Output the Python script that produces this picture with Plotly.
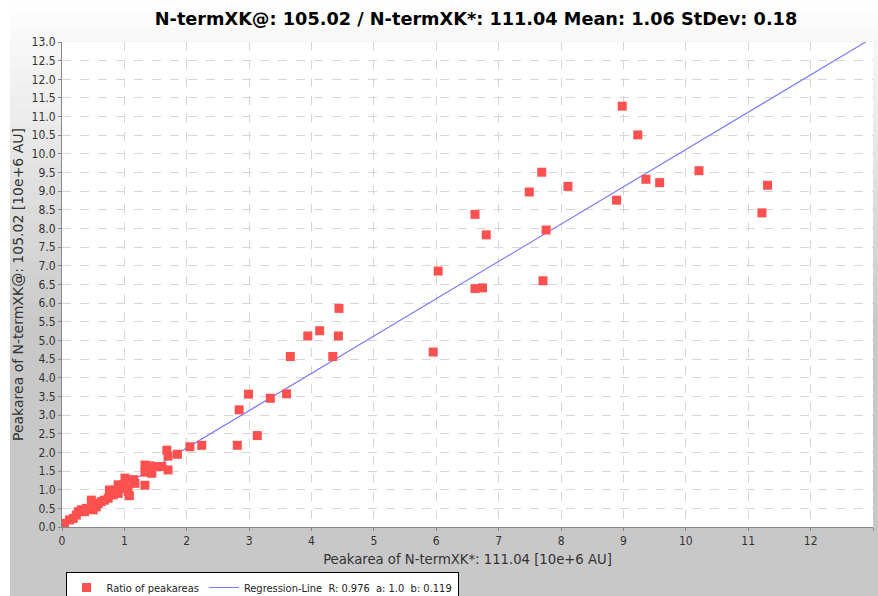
import plotly.graph_objects as go

title_text = "N-termXK@: 105.02 / N-termXK*: 111.04 Mean: 1.06 StDev: 0.18"
x_title = "Peakarea of N-termXK*: 111.04 [10e+6 AU]"
y_title = "Peakarea of N-termXK@: 105.02 [10e+6 AU]"
series_name = "Ratio of peakareas"
reg_name = "Regression-Line  R: 0.976  a: 1.0  b: 0.119"

# Peak areas (10e+6 AU)
peak_x = [
    8.98, 9.23, 7.69, 7.49, 8.11, 8.89, 9.36, 9.58, 10.21, 11.31, 11.22,
    6.62, 6.80, 7.76, 7.71, 6.03, 6.62, 6.74, 5.95,
    4.44, 4.13, 3.94, 4.43, 4.34, 3.66, 2.99, 3.34, 3.60, 2.84, 3.13, 2.81,
    2.24, 2.05, 1.85, 1.68, 1.70,
    1.33, 1.41, 1.52, 1.60, 1.33, 1.44, 1.70, 1.01, 1.14, 1.17, 1.15, 1.33,
    0.90, 0.96, 1.08, 1.06,
    0.04, 0.12, 0.18, 0.23, 0.26, 0.31, 0.36, 0.39, 0.47, 0.50, 0.55, 0.58,
    0.63, 0.68, 0.74, 0.76, 0.82, 0.84, 0.90, 0.92, 0.98, 1.03,
]
peak_y = [
    11.28, 10.51, 9.51, 8.98, 9.13, 8.76, 9.32, 9.23, 9.55, 9.16, 8.42,
    8.38, 7.83, 7.96, 6.60, 6.86, 6.39, 6.41, 4.69,
    5.86, 5.26, 5.12, 5.12, 4.57, 4.57, 3.56, 3.45, 3.57, 3.14, 2.45, 2.19,
    2.19, 2.15, 1.95, 2.06, 1.90,
    1.66, 1.64, 1.62, 1.62, 1.47, 1.44, 1.53, 1.31, 1.21, 1.17, 1.27, 1.12,
    1.13, 1.04, 0.84, 0.95,
    0.10, 0.19, 0.23, 0.32, 0.41, 0.46, 0.41, 0.50, 0.72, 0.46, 0.54, 0.63,
    0.68, 0.72, 0.77, 0.99, 0.86, 0.99, 0.90, 1.08, 1.13, 1.04,
]

reg_slope = 1.0
reg_intercept = 0.119
axis_max = 13.0

x_ticks = list(range(0, 14))
y_ticks = [i * 0.5 for i in range(0, 27)]
y_tick_labels = [f"{v:.1f}" for v in y_ticks]

line_x = [0.0, (axis_max - reg_intercept) / reg_slope]
line_y = [reg_slope * v + reg_intercept for v in line_x]

FONT = "Liberation Sans Narrow, DejaVu Sans Condensed, Liberation Sans, sans-serif"
FONT_Y = "DejaVu Sans, sans-serif"

fig = go.Figure()
fig.add_trace(go.Scatter(
    x=line_x, y=line_y, mode="lines", name=reg_name,
    line=dict(color="#7b7bff", width=1.2),
))
fig.add_trace(go.Scatter(
    x=peak_x, y=peak_y, mode="markers", name=series_name,
    marker=dict(symbol="square", size=9, color="#ff5050", line=dict(width=0)),
))

# background: white strip on left, vertical white->gray gradient elsewhere
W, H = 878, 596
L, R, T, B = 62, 5, 42, 69
pw, ph = W - L - R, H - T - B


def px_to_paper_x(px):
    return (px - L) / pw


def py_to_paper_y(py):
    return (H - B - py) / ph


shapes = []
shapes.append(dict(type="rect", xref="paper", yref="paper",
                   x0=px_to_paper_x(0), x1=px_to_paper_x(W),
                   y0=py_to_paper_y(H), y1=py_to_paper_y(0),
                   fillcolor="#c8c8c8", line=dict(width=0), layer="below"))
n = 24
g_end = 330
for i in range(n):
    y0p = g_end * i / n
    y1p = g_end * (i + 1) / n + 0.5
    c = int(round(255 - (255 - 200) * (i + 0.5) / n))
    shapes.append(dict(type="rect", xref="paper", yref="paper",
                       x0=px_to_paper_x(10), x1=px_to_paper_x(W),
                       y0=py_to_paper_y(y1p), y1=py_to_paper_y(y0p),
                       fillcolor=f"rgb({c},{c},{c})", line=dict(width=0), layer="below"))
shapes.append(dict(type="rect", xref="paper", yref="paper",
                   x0=px_to_paper_x(0), x1=px_to_paper_x(10),
                   y0=py_to_paper_y(H), y1=py_to_paper_y(0),
                   fillcolor="white", line=dict(width=0), layer="below"))
shapes.append(dict(type="rect", xref="paper", yref="paper",
                   x0=0, x1=1, y0=0, y1=1,
                   fillcolor="white", line=dict(width=0), layer="below"))

fig.update_layout(
    width=W, height=H,
    margin=dict(l=L, r=R, t=T, b=B, autoexpand=False),
    paper_bgcolor="#c8c8c8",
    plot_bgcolor="white",
    shapes=shapes,
    title=dict(text=title_text, x=476 / W, xref="container", xanchor="center",
               y=1 - 19 / H, yref="container", yanchor="middle",
               font=dict(family="DejaVu Sans, sans-serif", size=17.7, color="black", weight="bold")),
    xaxis=dict(
        range=[0, axis_max], tickvals=x_ticks, ticktext=[str(v) for v in x_ticks],
        showgrid=True, gridcolor="#d6d6d6", griddash="dash", gridwidth=1,
        zeroline=False, showline=True, linecolor="#888888", linewidth=1,
        ticks="outside", ticklen=3, tickcolor="#888888", automargin=False,
        tickfont=dict(family=FONT, size=12, color="#333333"),
        title=dict(text=x_title, standoff=6,
                   font=dict(family=FONT, size=14.7, color="#333333")),
    ),
    yaxis=dict(
        range=[0, axis_max], tickvals=y_ticks, ticktext=y_tick_labels,
        showgrid=True, gridcolor="#d6d6d6", griddash="dash", gridwidth=1,
        zeroline=False, showline=True, linecolor="#888888", linewidth=1,
        ticks="outside", ticklen=3, tickcolor="#888888", automargin=False,
        tickfont=dict(family=FONT, size=12, color="#333333"),
        title=dict(text=y_title, standoff=4,
                   font=dict(family=FONT_Y, size=14, color="#333333")),
    ),
    legend=dict(
        orientation="h", x=px_to_paper_x(262), xanchor="center",
        y=py_to_paper_y(572), yanchor="top",
        bgcolor="white", bordercolor="black", borderwidth=1,
        font=dict(family=FONT, size=11, color="#222222"),
        traceorder="reversed", itemwidth=30,
    ),
    showlegend=True,
)

fig.write_html("out.html", config={"displayModeBar": False},
               post_script="document.body.style.margin='0px';")
